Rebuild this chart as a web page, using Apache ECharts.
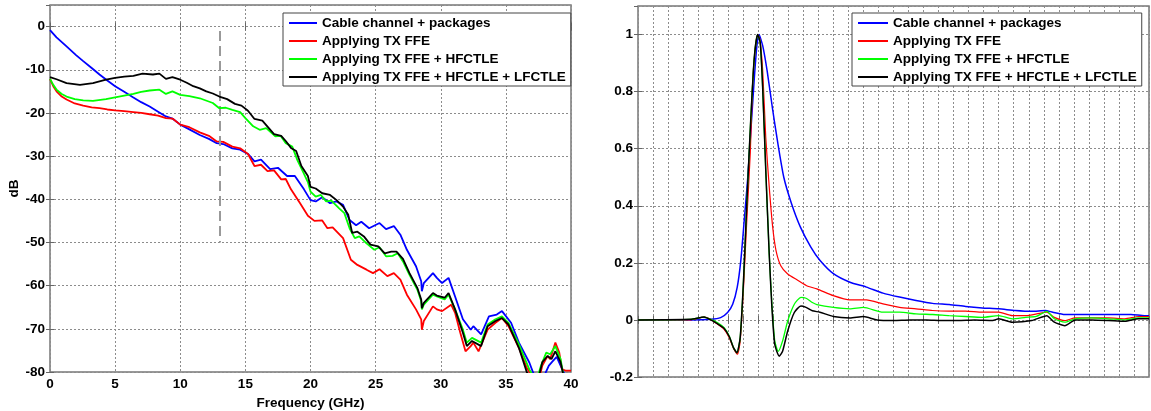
<!DOCTYPE html>
<html>
<head>
<meta charset="utf-8">
<script src="https://cdn.jsdelivr.net/npm/echarts/dist/echarts.min.js"></script>
<style>
  html, body { margin: 0; padding: 0; background: #fff; }
  #chart { width: 1151px; height: 411px; }
</style>
</head>
<body>
<div id="chart"></div>
<script>
// series names (shared by both panels)
const names = [
  'Cable channel + packages',
  'Applying TX FFE',
  'Applying TX FFE + HFCTLE',
  'Applying TX FFE + HFCTLE + LFCTLE'
];
const colors = ['#0000ff', '#ff0000', '#00ff00', '#000000'];

// left panel: [GHz, dB]
const lossCable = [[0,-0.8],[0.5,-2.5],[1.27,-4.6],[2,-6.6],[2.55,-8],[3.2,-9.6],[3.8,-11.1],[4.4,-12.5],[5,-13.8],[5.7,-15.1],[6.4,-16.4],[7,-17.5],[7.65,-18.5],[8.3,-19.7],[8.9,-20.8],[9.4,-21.3],[10,-22.7],[10.7,-23.8],[11.5,-25.1],[12.2,-26],[12.8,-27],[13.3,-27.2],[14,-28.2],[14.6,-28.5],[15.2,-29.5],[15.7,-31.2],[16.2,-30.8],[16.9,-33],[17.5,-32.7],[18.2,-34.6],[18.8,-34.6],[19.5,-37.7],[20,-40.2],[20.4,-40.5],[20.9,-39.5],[21.5,-40.9],[22,-40.5],[22.5,-41.3],[23,-44.8],[23.5,-46],[23.9,-45.2],[24.5,-46.7],[25.3,-45.5],[25.8,-46.9],[26.4,-46.2],[26.9,-48.2],[27.4,-51.7],[28.1,-55.5],[28.5,-59],[28.55,-61.3],[28.7,-59.4],[29.4,-57.1],[29.7,-58.2],[30.1,-59.4],[30.6,-58.2],[31.1,-62.5],[31.7,-67.8],[32.3,-70.2],[32.5,-69.4],[33.1,-71.3],[33.7,-67.1],[34.3,-66.7],[34.7,-65.9],[35.4,-68.6],[36,-73.2],[36.8,-77.8],[37.2,-81],[37.6,-82],[38,-80.5],[38.3,-78.5],[38.6,-77.5],[38.9,-76.5],[39.2,-78.5],[39.5,-80.5],[40,-80.5]];
const lossTxFfe = [[0,-12.1],[0.25,-13.8],[0.5,-15],[0.9,-16.2],[1.27,-16.9],[1.9,-17.8],[2.55,-18.3],[3.2,-18.7],[3.8,-18.9],[4.4,-19.2],[5,-19.4],[5.7,-19.6],[6.4,-19.8],[7,-20],[7.65,-20.3],[8.3,-20.6],[8.9,-21.2],[9.4,-21.3],[10,-22.7],[10.7,-23.3],[11.5,-24.5],[12.2,-25.3],[12.8,-26.6],[13.3,-26.7],[14,-27.8],[14.6,-28.2],[15.2,-29.5],[15.7,-32.3],[16.2,-32],[16.7,-33.5],[17.2,-33.3],[17.75,-35.4],[18.1,-35.3],[18.5,-37.7],[19.2,-40.9],[19.8,-43.8],[20.3,-45],[20.9,-44.9],[21.3,-46.7],[21.7,-46.5],[22.5,-49],[23.1,-54],[23.6,-55.2],[24.3,-56.3],[24.8,-57.1],[25.3,-56.2],[25.9,-57.8],[26.4,-57.1],[26.9,-58.6],[27.4,-62.1],[28.1,-65.5],[28.5,-67.8],[28.55,-70.2],[28.7,-68.2],[29.4,-64.8],[29.7,-65.5],[30.1,-65.9],[30.8,-64.4],[31.1,-66.3],[31.5,-70.9],[31.9,-75.2],[32.3,-74],[32.5,-73.2],[32.9,-75.2],[33.6,-70.2],[34.2,-68.6],[34.7,-67.5],[35.2,-69.4],[36,-74.4],[36.6,-79],[36.9,-80.5],[37.3,-82],[37.6,-81],[37.8,-78.5],[38.2,-76.3],[38.4,-77],[38.8,-73.2],[39.1,-75.5],[39.3,-79.3],[39.6,-79.7],[40,-79.7]];
const lossHf = [[0,-12.1],[0.25,-13.5],[0.5,-14.6],[0.9,-15.6],[1.27,-16.2],[1.9,-16.8],[2.55,-17.1],[3.3,-17.2],[4.3,-16.8],[5,-16.4],[5.7,-16],[6.4,-15.6],[7,-15.1],[7.65,-14.8],[8.4,-14.6],[8.9,-15.6],[9.4,-15],[10,-15.8],[10.7,-16.1],[11.5,-16.6],[12.5,-17.7],[13,-18.9],[13.5,-18.8],[14,-19.3],[14.6,-19.8],[15,-21.2],[15.6,-23.1],[16.1,-23.9],[16.6,-23.5],[17.3,-25.4],[17.7,-25.3],[18.1,-27],[18.6,-27.8],[19,-31],[19.4,-33.5],[19.8,-36],[20,-38.2],[20.4,-39.4],[20.8,-39],[21.2,-40.5],[21.6,-40.3],[22.2,-42.1],[22.6,-43.2],[23,-46.7],[23.4,-49],[23.75,-48.6],[24.3,-50.2],[24.9,-51.7],[25.3,-51.1],[25.8,-53.2],[26.3,-53.1],[26.7,-52.5],[27.1,-54.4],[27.6,-57.5],[28.2,-60.9],[28.5,-63.6],[28.55,-65.5],[28.7,-64.4],[29.4,-62.1],[29.7,-62.5],[30.3,-63.2],[30.6,-62.1],[31.1,-65.5],[31.7,-70.2],[32,-73.2],[32.4,-72.1],[33.1,-73.2],[33.6,-69],[34.2,-67.8],[34.7,-67.1],[35.2,-68.6],[36,-73.6],[36.8,-79.4],[37.1,-81],[37.4,-81.5],[37.7,-78.5],[38.1,-75.5],[38.4,-75.9],[38.8,-74],[39.2,-77],[39.4,-80.5],[40,-81]];
const lossHfLf = [[0,-11.7],[0.5,-12.2],[1.27,-13.1],[2.3,-13.5],[3.3,-13.1],[4.3,-12.3],[5,-11.9],[5.7,-11.6],[6.4,-11.4],[7.1,-10.9],[7.9,-11.1],[8.4,-10.9],[8.9,-12.1],[9.4,-11.7],[10,-12.3],[10.5,-13],[11,-13.8],[11.5,-14.3],[12,-15],[12.5,-15.5],[13,-16.2],[13.6,-16.8],[14.2,-17.9],[14.7,-18.3],[15.2,-19.5],[15.7,-21.4],[16.3,-21.8],[16.8,-23.5],[17.2,-24.9],[17.75,-25.3],[18.1,-26.5],[18.5,-28.1],[18.9,-28.8],[19.3,-32.3],[19.8,-34.6],[20,-37.1],[20.4,-37.5],[20.9,-38.6],[21.5,-39],[22,-40.2],[22.5,-41.7],[22.9,-43.6],[23.2,-47.8],[23.6,-47.5],[24.1,-48.6],[24.6,-50.5],[25.2,-50.9],[25.7,-52.5],[26.2,-52.1],[26.6,-52.1],[27.1,-53.8],[27.6,-57.1],[28.2,-60.5],[28.5,-63.2],[28.55,-65.2],[28.7,-64],[29.4,-61.7],[29.7,-62.3],[30.3,-62.8],[30.6,-61.7],[31.1,-65.5],[31.7,-70.9],[32,-74],[32.4,-72.8],[33.1,-74],[33.6,-69.4],[34.2,-68.2],[34.7,-67.5],[35.2,-69],[36,-74.4],[36.6,-80],[37,-82],[37.5,-81.5],[37.8,-77.7],[38.2,-76.3],[38.5,-77],[38.8,-75.2],[39.2,-77.7],[39.4,-80.5],[40,-81]];
// dashed marker at 13 GHz
const markerLine = [[13, -1], [13, -50]];

// right panel: pulse response [grid step, amplitude]
const pulseCable = [[0,0],[3.5,0],[4.84,0.002],[5.5,0.008],[5.96,0.026],[6.3,0.055],[6.6,0.114],[6.84,0.208],[7.07,0.35],[7.29,0.49],[7.5,0.655],[7.73,0.84],[7.91,0.96],[8.05,1.0],[8.3,0.96],[8.6,0.87],[8.95,0.74],[9.3,0.62],[9.7,0.5],[10.2,0.41],[10.8,0.326],[11.5,0.255],[12.1,0.209],[13,0.162],[14.1,0.132],[15.2,0.115],[16.3,0.094],[17.4,0.08],[18.5,0.068],[19.6,0.058],[20.7,0.054],[21.8,0.047],[22.9,0.042],[24,0.039],[25.1,0.033],[26.2,0.03],[27.1,0.033],[27.6,0.027],[28.4,0.019],[29.5,0.019],[30.6,0.019],[31.7,0.019],[32.8,0.019],[33.7,0.015],[34,0.015]];
const pulseTxFfe = [[0,0],[3.5,0],[4.4,0.01],[4.84,0.002],[5.3,-0.015],[5.73,-0.033],[6.07,-0.062],[6.36,-0.1],[6.62,-0.12],[6.8,-0.074],[7.02,0.114],[7.24,0.35],[7.47,0.585],[7.62,0.82],[7.78,0.94],[7.96,1.0],[8.1,0.985],[8.29,0.88],[8.5,0.64],[8.73,0.467],[8.96,0.326],[9.18,0.244],[9.5,0.19],[9.96,0.161],[10.6,0.14],[11.3,0.118],[11.9,0.109],[13,0.085],[14.1,0.07],[15.2,0.07],[16.3,0.056],[17.4,0.044],[18.5,0.039],[19.6,0.033],[20.7,0.031],[21.8,0.031],[22.9,0.027],[24,0.027],[24.9,0.015],[25.8,0.015],[26.7,0.023],[27.2,0.027],[27.7,0.009],[28.4,-0.002],[29.1,0.007],[30.2,0.007],[31.3,0.007],[32.4,0.004],[33.3,0.012],[34,0.012]];
const pulseHf = [[0,0],[3.5,0.002],[4.4,0.01],[4.84,0.002],[5.3,-0.01],[5.73,-0.027],[6.07,-0.056],[6.36,-0.098],[6.58,-0.115],[6.8,-0.062],[7.02,0.138],[7.24,0.408],[7.5,0.7],[7.73,0.914],[7.96,1.0],[8.13,0.973],[8.29,0.82],[8.5,0.526],[8.73,0.232],[8.91,0.055],[9.1,-0.074],[9.33,-0.11],[9.62,-0.074],[9.96,-0.004],[10.4,0.055],[10.84,0.079],[11.18,0.076],[11.6,0.061],[11.9,0.054],[13,0.044],[14.1,0.039],[15,0.044],[16.3,0.027],[17.4,0.027],[18.5,0.021],[19.6,0.019],[20.7,0.015],[21.8,0.012],[22.9,0.009],[24,0.015],[24.9,0.004],[25.8,0.009],[26.5,0.012],[27.2,0.03],[27.7,0.004],[28.4,-0.008],[29.1,0.004],[30.2,0.007],[31.3,0.004],[32.4,0],[33.3,0.007],[34,0.007]];
const pulseHfLf = [[0,0],[3.5,0.002],[4.4,0.01],[4.84,0],[5.3,-0.014],[5.73,-0.03],[6.07,-0.058],[6.36,-0.098],[6.58,-0.115],[6.8,-0.062],[7.02,0.138],[7.24,0.408],[7.5,0.7],[7.73,0.914],[7.96,1.0],[8.13,0.973],[8.29,0.82],[8.5,0.526],[8.73,0.232],[8.91,0.044],[9.1,-0.086],[9.4,-0.127],[9.62,-0.11],[9.96,-0.039],[10.4,0.026],[10.84,0.049],[11.18,0.044],[11.6,0.032],[12.1,0.027],[13,0.012],[14.1,0.007],[15,0.012],[15.9,0],[17,-0.002],[18.1,0],[19.2,0],[20.2,-0.002],[21.3,-0.002],[22.4,0],[23.6,-0.002],[24,0.004],[24.9,-0.008],[26.2,-0.002],[27.2,0.015],[27.7,-0.008],[28.4,-0.02],[29.1,0],[30.2,0],[31.3,-0.002],[32.4,-0.005],[33.3,0.004],[34,0.004]];

const lossData = [lossCable, lossTxFfe, lossHf, lossHfLf];
const pulseData = [pulseCable, pulseTxFfe, pulseHf, pulseHfLf];
const pulseWidths = [1.5, 1.2, 1.3, 1.5];

const font = 'Liberation Sans, Arial, sans-serif';
const labelStyle = { fontFamily: font, fontWeight: 'bold', fontSize: 13.5, color: '#000' };
const gridLine = { show: true, lineStyle: { color: '#8c8c8c', type: [2, 2], width: 1 } };
const tickIn = { show: true, inside: true, length: 4, lineStyle: { color: '#666' } };

function boxAxis(gridIndex, pos, min, max, interval) {
  return {
    type: 'value', gridIndex: gridIndex, position: pos, min: min, max: max, interval: interval,
    axisLine: { show: false }, axisTick: tickIn, axisLabel: { show: false }, splitLine: { show: false }
  };
}

const chart = echarts.init(document.getElementById('chart'), null, { renderer: 'canvas' });

const series = [];
names.forEach(function (n, i) {
  const s = {
    name: n, type: 'line', xAxisIndex: 0, yAxisIndex: 0, data: lossData[i],
    symbol: 'none', lineStyle: { color: colors[i], width: 1.8 }, itemStyle: { color: colors[i] },
    clip: true, z: 3 + i
  };
  if (i === 0) {
    s.markLine = {
      silent: true, symbol: 'none', label: { show: false },
      lineStyle: { color: '#999', type: [10, 5], width: 2 },
      data: [[{ coord: markerLine[0] }, { coord: markerLine[1] }]]
    };
  }
  series.push(s);
});
names.forEach(function (n, i) {
  series.push({
    name: n, type: 'line', xAxisIndex: 2, yAxisIndex: 2, data: pulseData[i],
    symbol: 'none', smooth: 0.2, lineStyle: { color: colors[i], width: pulseWidths[i] }, itemStyle: { color: colors[i] },
    clip: true, z: 3 + i
  });
});

const legendBase = {
  orient: 'vertical', data: names, icon: 'rect', itemHeight: 2, itemGap: 4,
  padding: [3, 5, 2, 6], borderColor: '#444', borderWidth: 1, backgroundColor: '#fff',
  textStyle: labelStyle, selectedMode: false
};

chart.setOption({
  animation: false,
  backgroundColor: '#fff',
  grid: [
    { left: 50, top: 5, right: 580, bottom: 39, show: true, borderColor: '#777', borderWidth: 1.5,
      backgroundColor: 'transparent', containLabel: false, outerBoundsMode: 'none' },
    { left: 638, top: 6, right: 2, bottom: 34, show: true, borderColor: '#777', borderWidth: 1.5,
      backgroundColor: 'transparent', containLabel: false, outerBoundsMode: 'none' }
  ],
  legend: [
    Object.assign({}, legendBase, { left: 283, top: 13, itemWidth: 28 }),
    Object.assign({}, legendBase, { left: 852, top: 13, itemWidth: 30 })
  ],
  xAxis: [
    {
      type: 'value', gridIndex: 0, min: 0, max: 40, interval: 5,
      name: 'Frequency (GHz)', nameLocation: 'middle', nameGap: 21, nameTextStyle: labelStyle,
      axisLine: { show: false }, axisTick: tickIn,
      axisLabel: Object.assign({ margin: 5 }, labelStyle), splitLine: gridLine
    },
    boxAxis(0, 'top', 0, 40, 5),
    {
      type: 'value', gridIndex: 1, min: 0, max: 34, interval: 1,
      axisLine: { show: false }, axisTick: tickIn, axisLabel: { show: false }, splitLine: gridLine
    },
    boxAxis(1, 'top', 0, 34, 1)
  ],
  yAxis: [
    {
      type: 'value', gridIndex: 0, min: -80, max: 5, interval: 10,
      name: 'dB', nameLocation: 'middle', nameGap: 25, nameTextStyle: labelStyle,
      axisLine: { show: false }, axisTick: tickIn,
      axisLabel: Object.assign({ margin: 5, showMaxLabel: false }, labelStyle), splitLine: gridLine
    },
    boxAxis(0, 'right', -80, 5, 10),
    {
      type: 'value', gridIndex: 1, min: -0.2, max: 1.1, interval: 0.2,
      axisLine: { show: false }, axisTick: tickIn,
      axisLabel: Object.assign({ margin: 5, showMaxLabel: false }, labelStyle), splitLine: gridLine
    },
    boxAxis(1, 'right', -0.2, 1.1, 0.2)
  ],
  series: series
});
</script>
</body>
</html>
